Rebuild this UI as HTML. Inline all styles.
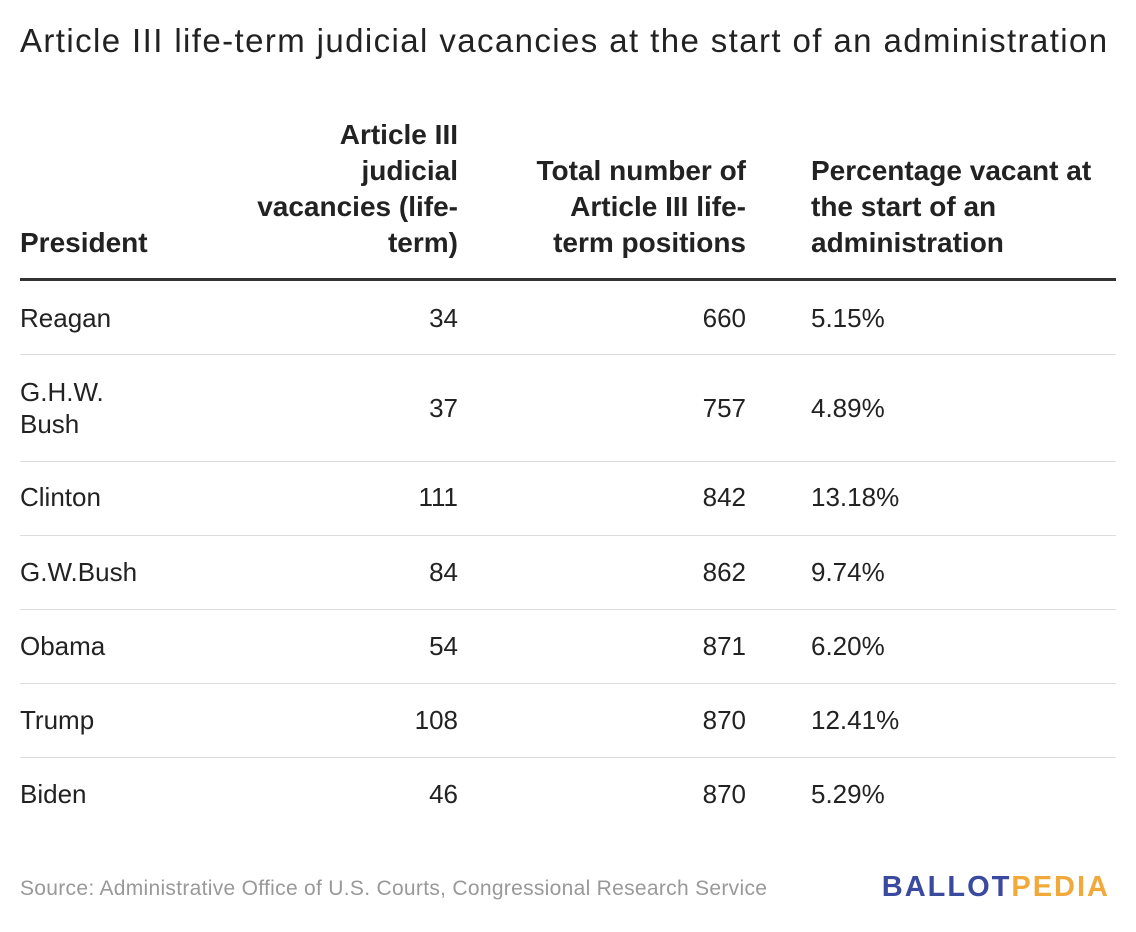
<!DOCTYPE html>
<html><head><meta charset="utf-8"><style>
body{margin:0;width:1136px;height:932px;background:#fff;font-family:"Liberation Sans",Arial,sans-serif;color:#222;position:relative;overflow:hidden}
.a{position:absolute;white-space:nowrap}
.t{font-size:33px;letter-spacing:1.4px;color:#222;left:20px;top:22px}
.h{font-weight:bold;font-size:28px;line-height:36px;color:#222}
.r{font-size:26px;line-height:32px}
.ln{position:absolute;left:20px;width:1096px;height:1px;background:#ddd}
</style></head><body>
<div class="a t">Article III life-term judicial vacancies at the start of an administration</div>
<div class="a h" style="left:20px;top:225px">President</div>
<div class="a h" style="right:678px;top:117px;text-align:right">Article III<br>judicial<br>vacancies (life-<br>term)</div>
<div class="a h" style="right:390px;top:153px;text-align:right">Total number of<br>Article III life-<br>term positions</div>
<div class="a h" style="left:811px;top:153px">Percentage vacant at<br>the start of an<br>administration</div>
<div class="ln" style="top:278px;height:3px;background:#333"></div>

<div class="a r" style="left:20px;top:302px">Reagan</div><div class="a r" style="right:678px;top:302px">34</div><div class="a r" style="right:390px;top:302px">660</div><div class="a r" style="left:811px;top:302px">5.15%</div>
<div class="ln" style="top:354px"></div>
<div class="a r" style="left:20px;top:376px">G.H.W.<br>Bush</div><div class="a r" style="right:678px;top:392px">37</div><div class="a r" style="right:390px;top:392px">757</div><div class="a r" style="left:811px;top:392px">4.89%</div>
<div class="ln" style="top:461px"></div>
<div class="a r" style="left:20px;top:481px">Clinton</div><div class="a r" style="right:678px;top:481px">111</div><div class="a r" style="right:390px;top:481px">842</div><div class="a r" style="left:811px;top:481px">13.18%</div>
<div class="ln" style="top:535px"></div>
<div class="a r" style="left:20px;top:556px">G.W.Bush</div><div class="a r" style="right:678px;top:556px">84</div><div class="a r" style="right:390px;top:556px">862</div><div class="a r" style="left:811px;top:556px">9.74%</div>
<div class="ln" style="top:609px"></div>
<div class="a r" style="left:20px;top:630px">Obama</div><div class="a r" style="right:678px;top:630px">54</div><div class="a r" style="right:390px;top:630px">871</div><div class="a r" style="left:811px;top:630px">6.20%</div>
<div class="ln" style="top:683px"></div>
<div class="a r" style="left:20px;top:704px">Trump</div><div class="a r" style="right:678px;top:704px">108</div><div class="a r" style="right:390px;top:704px">870</div><div class="a r" style="left:811px;top:704px">12.41%</div>
<div class="ln" style="top:757px"></div>
<div class="a r" style="left:20px;top:778px">Biden</div><div class="a r" style="right:678px;top:778px">46</div><div class="a r" style="right:390px;top:778px">870</div><div class="a r" style="left:811px;top:778px">5.29%</div>

<div class="a" style="left:20px;top:877px;font-size:21px;letter-spacing:0.3px;color:#999">Source: Administrative Office of U.S. Courts, Congressional Research Service</div>
<div class="a" style="right:26px;top:871px;font-size:29px;font-weight:bold;letter-spacing:2px"><span style="color:#3a4a9f">BALLOT</span><span style="color:#f2a93b">PEDIA</span></div>
</body></html>
